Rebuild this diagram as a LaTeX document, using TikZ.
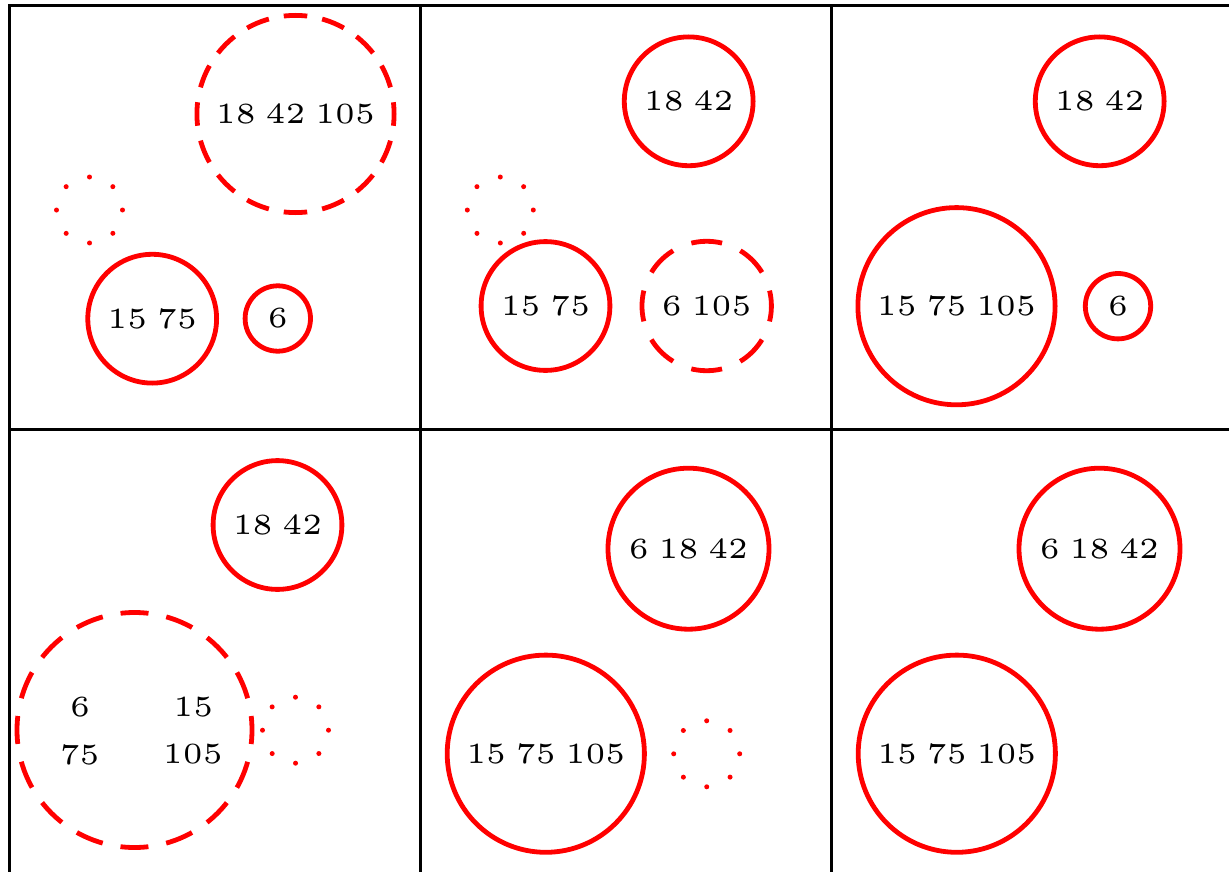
\documentclass[tikz,border=0pt]{standalone}
\newcommand\lbl[1]{\scalebox{5.85}{\fontsize{5pt}{6pt}\selectfont\spaceskip=\dimexpr\fontdimen2\font-0.68pt\relax #1}}
\tikzset{
  ring/.style={circle, draw=red, line width=4.8pt, inner sep=0pt, outer sep=0pt},
  rs/.style={ring, minimum size=65.4pt},
  rm/.style={ring, minimum size=128.8pt},
  rl/.style={ring, minimum size=161pt},
  rx/.style={ring, minimum size=197.2pt},
  dotring/.style={ring, minimum size=66pt, line width=5pt, line cap=round, dash pattern={on 0pt off 25.918pt}},
  dashA/.style={ring, minimum size=197.2pt, dash pattern={on 23.5pt off 15.22pt}, dash phase=11.75pt},
  dashB/.style={ring, minimum size=129.4pt, dash pattern={on 31pt off 19.81pt}, dash phase=15.5pt},
  dashC/.style={ring, minimum size=235pt, dash pattern={on 28pt off 18.14pt}, dash phase=14pt},
  gridline/.style={draw=black, line width=2.8pt},
  txt/.style={inner sep=0pt}
}
\begin{document}
\begin{tikzpicture}[x=1pt,y=-1pt]
\useasboundingbox (0,0) rectangle (1229,872);
\clip (0,0) rectangle (1229,872);
% grid
\coordinate (tl) at (9.7,5.3);
\coordinate (tr) at (1235,5.3);
\coordinate (ml) at (9.7,429.3);
\coordinate (mr) at (1235,429.3);
\coordinate (bl) at (9.7,880);
\coordinate (v2t) at (420.7,5.3);
\coordinate (v2b) at (420.7,880);
\coordinate (v3t) at (831.7,5.3);
\coordinate (v3b) at (831.7,880);
\draw[gridline] (tr) -- (tl) -- (bl);
\draw[gridline] (ml) -- (mr);
\draw[gridline] (v2t) -- (v2b);
\draw[gridline] (v3t) -- (v3b);
% cell 1
\node[dashA] (a1) at (295.5,114) {\lbl{18 42 105}};
\node[dotring] (a2) at (89.5,210) {};
\node[rm] (a3) at (152.2,318.7) {\lbl{15 75}};
\node[rs] (a4) at (277.8,318.5) {\lbl{6}};
% cell 2
\node[rm] (b1) at (688.7,101.3) {\lbl{18 42}};
\node[dotring] (b2) at (500.3,210) {};
\node[rm] (b3) at (545.5,306) {\lbl{15 75}};
\node[dashB] (b4) at (706.7,306) {\lbl{6 105}};
% cell 3
\node[rm] (c1) at (1099.7,101.3) {\lbl{18 42}};
\node[rx] (c2) at (956.5,306.2) {\lbl{15 75 105}};
\node[rs] (c3) at (1118,306.2) {\lbl{6}};
% cell 4
\node[rm] (d1) at (277.5,525) {\lbl{18 42}};
\node[dashC] (d2) at (134.5,730) {};
\node[dotring] (d3) at (295.5,730.2) {};
\node[txt] (d4) at (80,707.5) {\lbl{6}};
\node[txt] (d5) at (193.3,707.5) {\lbl{15}};
\node[txt] (d6) at (79.7,754.5) {\lbl{75}};
\node[txt] (d7) at (192.8,754.5) {\lbl{105}};
% cell 5
\node[rl] (e1) at (688.5,548.7) {\lbl{6 18 42}};
\node[rx] (e2) at (545.8,753.7) {\lbl{15 75 105}};
\node[dotring] (e3) at (706.7,753.8) {};
% cell 6
\node[rl] (f1) at (1099.5,548.7) {\lbl{6 18 42}};
\node[rx] (f2) at (956.8,753.7) {\lbl{15 75 105}};
\end{tikzpicture}
\end{document}
